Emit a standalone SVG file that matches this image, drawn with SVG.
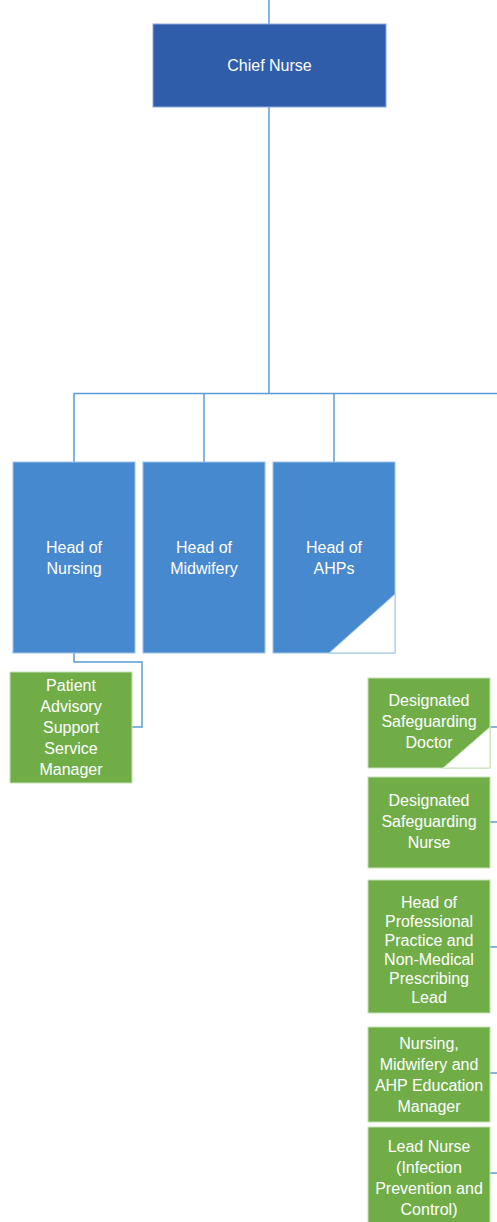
<svg xmlns="http://www.w3.org/2000/svg" width="497" height="1222" viewBox="0 0 497 1222">
<style>
.c{fill:none;stroke:#5B9BD5;stroke-width:1.5}
.t{font-family:"Liberation Sans",Arial,sans-serif;font-size:16px;fill:#FFFFFF;text-anchor:middle}
.blue{fill:#4789CF;stroke:#9DC3E6;stroke-width:1}
.green{fill:#70AD47;stroke:#C5E0B4;stroke-width:1}
.tri{fill:#FFFFFF;stroke:#9DC3E6;stroke-width:1}
</style>
<rect width="497" height="1222" fill="#FFFFFF"/>
<g id="connectors">
<path class="c" d="M269,0 V24"/>
<path class="c" d="M269,107 V393.5"/>
<path class="c" d="M74,462 V393.5 H497"/>
<path class="c" d="M204,393.5 V462"/>
<path class="c" d="M334,393.5 V462"/>
<path class="c" d="M74,653 V662 H142 V727 H132"/>
<path class="c" d="M490,727 H497"/>
<path class="c" d="M490,822 H497"/>
<path class="c" d="M490,947 H497"/>
<path class="c" d="M490,1073 H497"/>
<path class="c" d="M490,1173 H497"/>
</g>
<g id="chief-nurse">
<rect x="153" y="24" width="233" height="83" fill="#2F5DA9" stroke="#8FAADC" stroke-width="1"/>
<text class="t" x="269.5" y="71" font-size="15">Chief Nurse</text>
</g>
<g id="head-of-nursing">
<rect class="blue" x="13" y="462" width="122" height="191"/>
<text class="t" x="74" y="553">Head of</text>
<text class="t" x="74" y="574">Nursing</text>
</g>
<g id="head-of-midwifery">
<rect class="blue" x="143" y="462" width="122" height="191"/>
<text class="t" x="204" y="553">Head of</text>
<text class="t" x="204" y="574">Midwifery</text>
</g>
<g id="head-of-ahps">
<rect class="blue" x="273" y="462" width="122" height="191"/>
<path class="tri" d="M395,594 V653 H329 Z"/>
<text class="t" x="334" y="553">Head of</text>
<text class="t" x="334" y="574">AHPs</text>
</g>
<g id="patient-advisory">
<rect class="green" x="10" y="672" width="122" height="111"/>
<text class="t" x="71" y="691">Patient</text>
<text class="t" x="71" y="712">Advisory</text>
<text class="t" x="71" y="733">Support</text>
<text class="t" x="71" y="754">Service</text>
<text class="t" x="71" y="775">Manager</text>
</g>
<g id="safeguarding-doctor">
<rect class="green" x="368" y="678" width="122" height="90"/>
<path d="M490,727 V768 H443 Z" fill="#FFFFFF" stroke="#C5E0B4" stroke-width="1"/>
<text class="t" x="429" y="706">Designated</text>
<text class="t" x="429" y="727">Safeguarding</text>
<text class="t" x="429" y="748">Doctor</text>
</g>
<g id="safeguarding-nurse">
<rect class="green" x="368" y="777" width="122" height="91"/>
<text class="t" x="429" y="806">Designated</text>
<text class="t" x="429" y="827">Safeguarding</text>
<text class="t" x="429" y="848">Nurse</text>
</g>
<g id="professional-practice">
<rect class="green" x="368" y="880" width="122" height="133"/>
<text class="t" x="429" y="908">Head of</text>
<text class="t" x="429" y="927">Professional</text>
<text class="t" x="429" y="946">Practice and</text>
<text class="t" x="429" y="965">Non-Medical</text>
<text class="t" x="429" y="984">Prescribing</text>
<text class="t" x="429" y="1003">Lead</text>
</g>
<g id="education-manager">
<rect class="green" x="368" y="1027" width="122" height="95"/>
<text class="t" x="429" y="1049">Nursing,</text>
<text class="t" x="429" y="1070">Midwifery and</text>
<text class="t" x="429" y="1091">AHP Education</text>
<text class="t" x="429" y="1112">Manager</text>
</g>
<g id="lead-nurse-ipc">
<rect class="green" x="368" y="1127" width="122" height="96"/>
<text class="t" x="429" y="1152">Lead Nurse</text>
<text class="t" x="429" y="1173">(Infection</text>
<text class="t" x="429" y="1194">Prevention and</text>
<text class="t" x="429" y="1215">Control)</text>
</g>
</svg>
